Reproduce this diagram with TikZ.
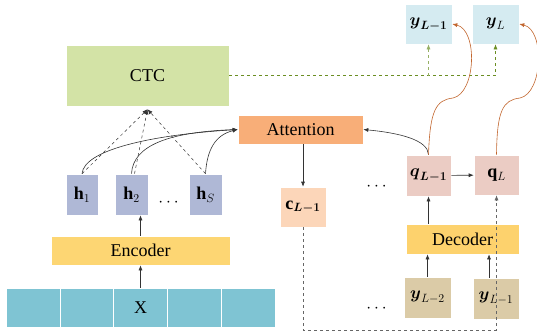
\documentclass[tikz,border=0pt]{standalone}
\usepackage{amsmath}
\usepackage{fontspec}
\setmainfont{Liberation Serif}
\usetikzlibrary{arrows.meta}

\definecolor{ctcgreen}{HTML}{D3E3A6}
\definecolor{attorange}{HTML}{F8AE78}
\definecolor{hblue}{HTML}{AFB8D6}
\definecolor{encyellow}{HTML}{FDD673}
\definecolor{xcyan}{HTML}{7FC4D3}
\definecolor{cpeach}{HTML}{FCD6B9}
\definecolor{qpink}{HTML}{EBCCC4}
\definecolor{ytan}{HTML}{DBCBA7}
\definecolor{ylight}{HTML}{D5EBF1}
\definecolor{olivedash}{HTML}{6B8E23}
\definecolor{rustline}{HTML}{C2662E}

\tikzset{
  box/.style={rectangle, draw=white, line width=0.6pt, inner sep=0pt,
    font=\fontsize{18}{20}\selectfont},
  arr/.style={->, line width=0.6pt, black!80},
}

\begin{document}
\begin{tikzpicture}[x=1pt, y=-1pt, >={Latex[length=5pt,width=4pt]}]

  % Bounding box of the scheme
  \useasboundingbox (0,0) rectangle (537,333);

  %%%%%%%%%%%%%%%%%%%%%%%%%%%%%%%%% Entree et encodeur %%%%%%%%%%%%%%%%%%%%%%%%%%%%%%%%%%%%
  \foreach \i in {1,2,...,5} {
    \draw ({6+53.8*(\i-0.5)},307.5) node[box, fill=xcyan, minimum width=53.8pt, minimum height=39pt] (x\i) {} ;
  }
  \draw (x3) node[box, draw=none] {X} ;

  \draw (140.5,250.5) node[box, fill=encyellow, minimum width=179pt, minimum height=29pt] (enc) {Encoder} ;

  % Etats caches
  \draw (82,194.5) node[box, fill=hblue, minimum width=32pt, minimum height=41pt] (h1) {$\mathbf{h}_1$} ;
  \draw (131.5,194.5) node[box, fill=hblue, minimum width=33pt, minimum height=41pt] (h2) {$\mathbf{h}_2$} ;
  \draw (205.5,194.5) node[box, fill=hblue, minimum width=33pt, minimum height=41pt] (hS) {$\mathbf{h}_S$} ;
  \draw (170,203) node[box] (hdots) {$\cdots$} ;

  %%%%%%%%%%%%%%%%%%%%%%%%%%%%%%%%% CTC et attention %%%%%%%%%%%%%%%%%%%%%%%%%%%%%%%%%%%%%%
  \draw (147.5,75.5) node[box, fill=ctcgreen, minimum width=163pt, minimum height=61pt] (ctc) {CTC} ;
  \draw (300.5,129.5) node[box, fill=attorange, minimum width=125pt, minimum height=29pt] (att) {Attention} ;
  \draw (303,207) node[box, fill=cpeach, minimum width=46pt, minimum height=40pt] (c) {$\mathbf{c}_{\boldsymbol{L-1}}$} ;

  %%%%%%%%%%%%%%%%%%%%%%%%%%%%%%%%% Decodeur %%%%%%%%%%%%%%%%%%%%%%%%%%%%%%%%%%%%%%%%%%%%%%
  \draw (428.5,175.5) node[box, fill=qpink, minimum width=45pt, minimum height=41pt] (qA) {$\boldsymbol{q}_{\boldsymbol{L-1}}$} ;
  \draw (496.5,175) node[box, fill=qpink, minimum width=45pt, minimum height=40pt] (qB) {$\mathbf{q}_L$} ;
  \draw (462.5,239) node[box, fill=encyellow!95!orange, minimum width=113pt, minimum height=30pt] (dec) {Decoder} ;
  \draw (427.5,297.5) node[box, fill=ytan, minimum width=47pt, minimum height=41pt] (yC) {$\boldsymbol{y}_{L-2}$} ;
  \draw (496,298.5) node[box, fill=ytan, minimum width=46pt, minimum height=41pt] (yD) {$\boldsymbol{y}_{L-1}$} ;
  \draw (378,187) node[box] (qdots) {$\cdots$} ;
  \draw (378,309) node[box] (ydots) {$\cdots$} ;

  % Sorties
  \draw (428.5,24) node[box, fill=ylight, minimum width=47pt, minimum height=40pt] (yA) {$\boldsymbol{y}_{\boldsymbol{L-1}}$} ;
  \draw (495.5,24) node[box, fill=ylight, minimum width=47pt, minimum height=40pt] (yB) {$\boldsymbol{y}_L$} ;

  %%%%%%%%%%%%%%%%%%%%%%%%%%%%%%%%%%%% Connexions %%%%%%%%%%%%%%%%%%%%%%%%%%%%%%%%%%%%%%%%%
  \coordinate (ctcin) at ([yshift=-3pt]ctc.south) ;
  \coordinate (low) at (400,330) ;

  \draw[arr] (x3.north) -- (enc.south) ;
  \draw[arr] (enc.north) -- (enc.north |- h2.south) ;

  \foreach \n/\dx in {h1/0, h2/3, hS/0} {
    \draw[arr, dashed, line width=0.5pt] ([xshift=\dx pt]\n.north) -- (ctcin) ;
  }

  \draw[arr] (h1.north) .. controls (84,150) and (150,135) .. (att.west) ;
  \draw[arr] (h2.north) .. controls (133,145) and (170,132) .. (att.west) ;
  \draw[arr] (hS.north) .. controls (207,150) and (215,135) .. (att.west) ;

  \draw[arr] (att.south -| c.north) -- (c.north) ;
  \draw[arr] (qA.north) .. controls (428,140) and (400,133) .. (att.east) ;
  \draw[arr] (qA) -- (qB) ;
  \draw[arr] (dec.north -| qA.south) -- (qA.south) ;
  \draw[arr] (yC.north) -- (yC |- dec.south) ;
  \draw[arr] ([xshift=-7pt]yD.north) -- ([xshift=-7pt]yD.north |- dec.south) ;

  \draw[arr, dashed, black!60] (c.south) -- (c.south |- low) -| (qB.south) ;

  \draw[->, dashed, olivedash, line width=0.6pt] (ctc.east) -| (yB.south) ;
  \draw[->, dashed, olivedash!70, line width=0.6pt] (ctc.east -| yA.south) -- (yA.south) ;

  \draw[->, rustline, line width=0.6pt] (qA.north) .. controls (430,110) and (436,100) .. (453,98)
    .. controls (476,93) and (478,30) .. (yA.east) ;
  \draw[->, rustline, line width=0.6pt] (qB.north) .. controls (497,110) and (503,100) .. (520,98)
    .. controls (543,93) and (545,30) .. (yB.east) ;

\end{tikzpicture}
\end{document}
